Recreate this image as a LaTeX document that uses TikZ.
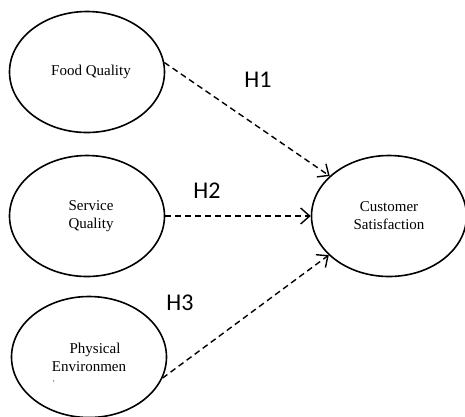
\documentclass[tikz,border=0pt]{standalone}
\usepackage{fontspec}
\setmainfont{Liberation Serif}
\newfontfamily\hypfont{Carlito}
\usetikzlibrary{shapes.geometric, arrows.meta}

\tikzset{
	construct/.style={ellipse, draw, line width=1.6pt, inner sep=0pt,
		minimum width=155pt, minimum height=121pt, align=center,
		font=\fontsize{15}{18}\selectfont},
	hyparrow/.style={-{Straight Barb[length=9pt,width=16pt]}, dash pattern=on 6pt off 4pt, line width=1.4pt},
	hyplabel/.style={font=\hypfont\fontsize{24}{24}\selectfont}
}

\begin{document}
\begin{tikzpicture}[x=1pt,y=-1pt]
	\useasboundingbox (0,0) rectangle (465,416);

	%ellipses
	\node[construct] (food) at (87,72)   {\hspace*{8pt}Food Quality};
	\node[construct] (serv) at (87,216)  {\hspace*{8pt}Service\\\hspace*{8pt}Quality};
	\node[construct] (phys) at (89,357)  {\hspace*{12pt}Physical\\Environmen};
	\node[construct] (cust) at (389,216) {Customer\\Satisfaction};
	\node[inner sep=0pt] (cut) at (54,381) {\fontsize{4}{4}\selectfont t};

	%arrows
	\draw[hyparrow] (food.7)   -- (cust.146);	%H1
	\draw[hyparrow] (serv.east) -- (cust.west);	%H2
	\draw[hyparrow] (phys.344) -- (cust.213);	%H3

	%labels
	\node[hyplabel] (h1) at (258,80)  {H1};
	\node[hyplabel] (h2) at (207,191) {H2};
	\node[hyplabel] (h3) at (180,303) {H3};
\end{tikzpicture}
\end{document}
